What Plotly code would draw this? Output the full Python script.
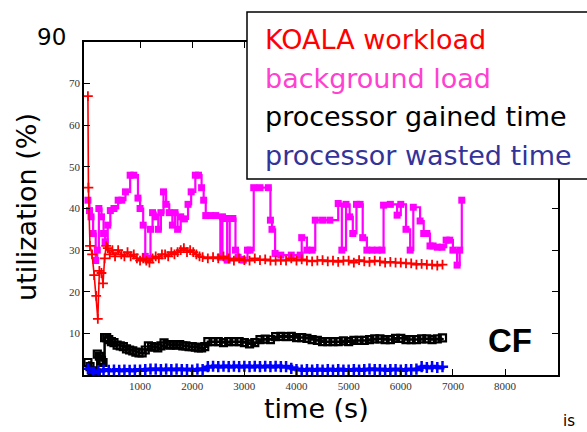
import plotly.graph_objects as go

# ---------------- data ----------------
red_t = [0, 10, 40, 80, 120, 160, 190, 220, 260, 290, 320, 350, 380, 420, 470, 520, 580, 640, 700, 760,
         820, 880, 940, 1000, 1060, 1120, 1180, 1240, 1300, 1360, 1420, 1480, 1540, 1600, 1660, 1720,
         1780, 1840, 1900, 1960, 2020, 2080, 2140, 2200, 2300, 2400, 2500, 2600, 2700, 2800, 2900,
         3000, 3100, 3200, 3300, 3400, 3500, 3600, 3700, 3800, 3900, 4000, 4100, 4200, 4300, 4400,
         4500, 4600, 4700, 4800, 4900, 5000, 5100, 5200, 5300, 5400, 5500, 5600, 5700, 5800, 5900,
         6000, 6100, 6200, 6300, 6400, 6500, 6600, 6700, 6800]
red_v = [67, 45, 31, 29, 24, 19, 13.5, 25, 24.5, 22, 28, 31, 30.5, 29, 30, 28.5, 30, 29, 28.5, 29.5,
         28.5, 29, 28, 27.5, 28, 27.5, 27, 28, 28.5, 28, 29, 29, 28.5, 29.5, 29, 29.5,
         30, 30.5, 29.5, 30, 29.5, 29, 28.5, 28.3, 28, 28.3, 28, 28.5, 28, 27.5, 28,
         27.6, 27.5, 28, 27.6, 27.8, 27.5, 27.5, 27.6, 27.5, 28, 27.5, 27.8, 27.5, 27.3, 27.5,
         27.6, 27.3, 27.5, 27.2, 27.5, 27.5, 27, 27.6, 27.3, 27.2, 27.5, 27.3, 27, 27.2, 27,
         27, 26.8, 26.8, 26.5, 26.7, 26.5, 26.5, 26.3, 26.5]

bg_t = [0, 30, 60, 100, 150, 180, 210, 260, 300, 330, 380, 430, 500, 580, 650, 720, 810, 880, 960,
        1000, 1060, 1100, 1150, 1200, 1240, 1300, 1350, 1400, 1450, 1500, 1560, 1620, 1670, 1720,
        1780, 1850, 1920, 1980, 2060, 2120, 2180, 2220, 2260, 2350, 2450, 2540, 2580, 2630, 2670,
        2720, 2780, 2830, 2880, 2980, 3060, 3110, 3180, 3300, 3460, 3500, 3530, 3590, 3700, 3900,
        4070, 4100, 4200, 4300, 4360, 4500, 4640, 4800, 4870, 4950, 5020, 5080, 5150, 5220, 5270,
        5350, 5450, 5550, 5640, 5670, 5800, 5930, 6000, 6100, 6180, 6240, 6370, 6440, 6500, 6560,
        6620, 6700, 6790, 6870, 6940, 7000, 7080, 7130, 7170]
bg_v = [42, 39.5, 38, 34, 27.5, 30, 40, 38, 34, 32, 36, 39.5, 40, 42, 42, 44, 48, 48, 42.5,
        40, 36, 28.5, 28, 35, 39, 38, 35, 39, 44, 41, 39, 36, 39, 35,
        38, 37.5, 41, 44, 48, 48, 45, 42, 38.3, 38.3, 38.3, 28.3, 38, 37.6, 27.6,
        37.6, 37.6, 30, 28.3, 27.6, 30, 30, 45, 45, 45, 37.2, 35, 29.2, 28.8, 28.8,
        28.8, 33, 30, 30, 37.2, 37.2, 37.2, 41.2, 30, 41, 38, 34, 41, 41, 33,
        30, 30, 30, 30, 40.8, 41, 38.4, 41, 35, 30, 40.3, 37, 34, 34, 31,
        31, 30.7, 30.7, 32.4, 32.4, 30, 26.4, 30, 42]

gain_t = [0, 40, 80, 120, 160, 180, 220, 260, 290, 320, 360, 400, 450, 500, 560, 620, 680, 740, 800,
          860, 920, 980, 1040, 1100, 1160, 1220, 1280, 1340, 1400, 1460, 1520, 1580, 1640, 1700,
          1760, 1820, 1880, 1940, 2000, 2060, 2120, 2180, 2240, 2300, 2400, 2500, 2600, 2700, 2800,
          2900, 3000, 3100, 3200, 3300, 3400, 3500, 3600, 3700, 3800, 3900, 4000, 4100, 4200, 4300,
          4400, 4500, 4600, 4700, 4800, 4900, 5000, 5100, 5200, 5300, 5400, 5500, 5600, 5700, 5800,
          5900, 6000, 6100, 6200, 6300, 6400, 6500, 6600, 6700, 6800]
gain_v = [3, 2, 1, 0.8, 0.5, 5, 4.5, 3.5, 3, 9, 9, 8.5, 8, 7.8, 7.2, 7, 6.8, 6.3, 6,
          5.8, 5.5, 5.3, 5.3, 6, 7, 6.8, 6.7, 6.5, 7, 7.7, 7.3, 7.2, 7.3, 7.2,
          7.3, 7, 7, 6.8, 6.8, 6.7, 6.5, 6.5, 6.8, 8, 8, 8, 7.8, 8, 8,
          8, 7.8, 7.5, 7.8, 8.5, 8.6, 8.5, 9.2, 9.3, 9.2, 9.3, 9, 9, 8.8, 8.5,
          8.3, 8, 8, 8, 8, 8.2, 8, 8.3, 8.3, 8.3, 8.5, 8.7, 8.7, 8.5, 8.5,
          8.8, 8.8, 8.5, 8.5, 8.5, 8.7, 8.7, 8.5, 8.7, 8.9]

waste_t = [0, 100, 200, 300, 400, 500, 600, 700, 800, 900, 1000, 1100, 1200, 1300, 1400, 1500,
           1600, 1700, 1800, 1900, 2000, 2100, 2200, 2300, 2400, 2500, 2600, 2700, 2800, 2900,
           3000, 3100, 3200, 3300, 3400, 3500, 3600, 3700, 3800, 3900, 4000, 4100, 4200, 4300,
           4400, 4500, 4600, 4700, 4800, 4900, 5000, 5100, 5200, 5300, 5400, 5500, 5600, 5700,
           5800, 5900, 6000, 6100, 6200, 6300, 6400, 6500, 6600, 6700, 6800]
waste_v = [1.5, 0.6, 1.0, 1.2, 1.1, 1.2, 1.1, 1.2, 1.1, 1.2, 1.2, 1.3, 1.4, 1.4, 1.3, 1.4,
           1.3, 1.4, 1.3, 1.3, 1.2, 1.4, 1.3, 2.0, 2.1, 2.0, 2.1, 2.0, 2.1, 2.0,
           2.1, 2.0, 2.1, 2.0, 2.1, 2.0, 2.1, 2.0, 2.0, 1.6, 1.3, 1.2, 1.3, 1.2,
           1.3, 1.2, 1.3, 1.2, 1.3, 1.2, 1.2, 1.3, 1.2, 1.3, 1.4, 1.3, 1.3, 1.2,
           1.3, 1.3, 1.2, 1.3, 1.3, 1.4, 2.0, 1.8, 2.0, 1.8, 2.0]

x_ticks = [1000, 2000, 3000, 4000, 5000, 6000, 7000, 8000]
y_ticks = [10, 20, 30, 40, 50, 60, 70]

legend_labels = ["KOALA workload", "background load", "processor gained time", "processor wasted time"]
legend_colors = ["#ff0000", "#ff40d0", "#000000", "#333399"]

# ---------------- geometry helpers (pixel -> paper) ----------------
L, R, T, B = 84, 558, 42, 375
def px(x):
    return (x - L) / (R - L)
def py(y):
    return (B - y) / (B - T)

fig = go.Figure()

fig.add_trace(go.Scatter(x=bg_t, y=bg_v, mode="lines+markers", line_shape="hv",
                         line=dict(color="#ff00ff", width=2.2),
                         marker=dict(symbol="square", size=7, color="#ff00ff"),
                         name="background load"))
fig.add_trace(go.Scatter(x=red_t, y=red_v, mode="lines+markers",
                         line=dict(color="#ff0000", width=1.6),
                         marker=dict(symbol="cross-thin", size=7, line=dict(color="#ff0000", width=1.8)),
                         name="KOALA workload"))
fig.add_trace(go.Scatter(x=gain_t, y=gain_v, mode="lines+markers", line_shape="hv",
                         line=dict(color="#000000", width=2.5),
                         marker=dict(symbol="square-open", size=7, line=dict(color="#000000", width=2.2)),
                         name="processor gained time"))
fig.add_trace(go.Scatter(x=waste_t, y=waste_v, mode="lines+markers", line_shape="hv",
                         line=dict(color="#0000ff", width=4),
                         marker=dict(symbol="cross-thin", size=8, line=dict(color="#0000ff", width=2.5)),
                         name="processor wasted time"))

tickfont = dict(family="Liberation Serif", size=11, color="#333333")
fig.update_xaxes(range=[-75, 9015], tickvals=x_ticks, ticktext=[str(v) for v in x_ticks],
                 showline=True, linecolor="black", linewidth=1.5, mirror="ticks",
                 ticks="inside", ticklen=6, tickcolor="black", tickwidth=1.2,
                 showgrid=False, zeroline=False, tickfont=tickfont)
fig.update_yaxes(range=[0, 80], tickvals=y_ticks, ticktext=[str(v) for v in y_ticks],
                 showline=True, linecolor="black", linewidth=1.5, mirror="ticks",
                 ticks="inside", ticklen=6, tickcolor="black", tickwidth=1.2,
                 showgrid=False, zeroline=False, tickfont=tickfont)

big = "DejaVu Sans"
annotations = []
# axis titles
annotations.append(dict(text="time (s)", x=px(316), y=py(408), xref="paper", yref="paper",
                        xanchor="center", yanchor="middle", showarrow=False,
                        font=dict(family=big, size=27, color="black")))
annotations.append(dict(text="utilization (%)", x=px(26), y=py(207), xref="paper", yref="paper",
                        xanchor="center", yanchor="middle", showarrow=False, textangle=-90,
                        font=dict(family=big, size=27, color="black")))
# "90" label at top-left
annotations.append(dict(text="90", x=px(51), y=py(37), xref="paper", yref="paper",
                        xanchor="center", yanchor="middle", showarrow=False,
                        font=dict(family=big, size=23, color="black")))
# "CF" tag
annotations.append(dict(text="<b>CF</b>", x=px(510), y=py(340), xref="paper", yref="paper",
                        xanchor="center", yanchor="middle", showarrow=False,
                        font=dict(family="Liberation Sans", size=33, color="black")))
# slide text partly visible at bottom right (kept fully inside the picture)
annotations.append(dict(text="is", x=px(561), y=py(432), xref="paper", yref="paper",
                        xanchor="left", yanchor="bottom", showarrow=False,
                        font=dict(family=big, size=15, color="black")))
# legend texts
for lab, col, yc in zip(legend_labels, legend_colors, [40, 78, 116, 155]):
    annotations.append(dict(text=lab, x=px(263), y=py(yc), xref="paper", yref="paper",
                            xanchor="left", yanchor="middle", showarrow=False,
                            font=dict(family=big, size=27, color=col)))

shapes = [dict(type="rect", xref="paper", yref="paper", x0=px(247), x1=px(595),
               y0=py(179), y1=py(12), fillcolor="white", line=dict(color="black", width=1.5),
               layer="above")]

fig.update_layout(width=587, height=432, margin=dict(l=L, r=587 - R, t=T, b=432 - B),
                  paper_bgcolor="white", plot_bgcolor="white", showlegend=False,
                  annotations=annotations, shapes=shapes)

fig.write_html("out.html", config={"displayModeBar": False},
               post_script="document.body.style.margin='0px';document.body.style.overflow='hidden';")
